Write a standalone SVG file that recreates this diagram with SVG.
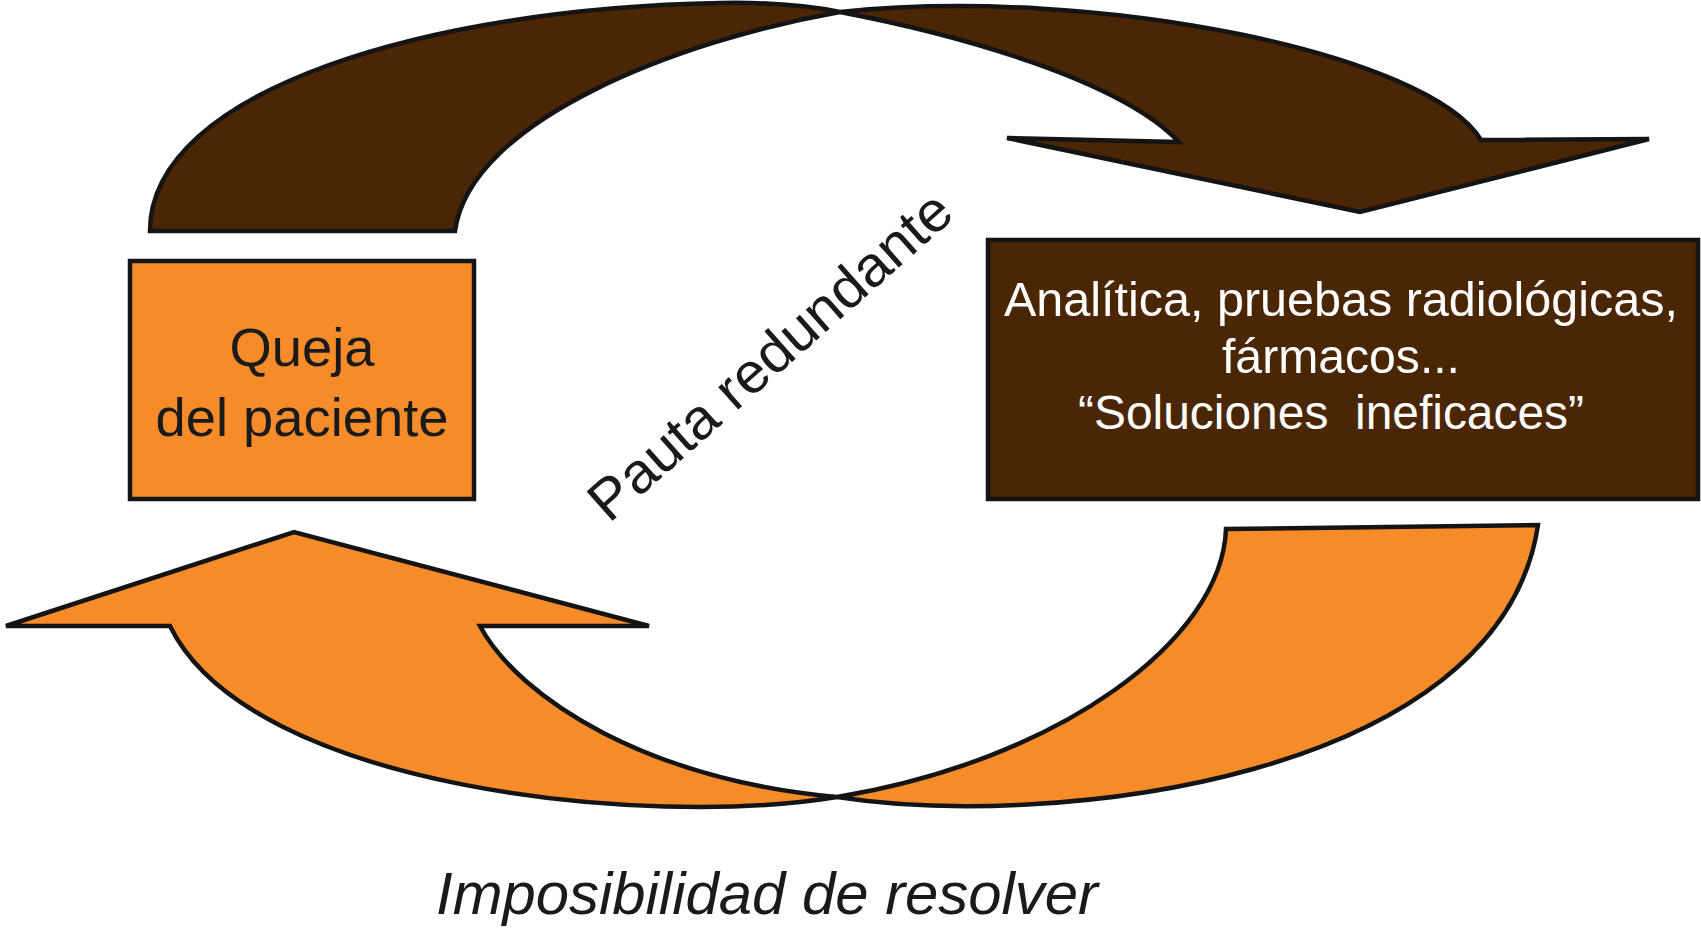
<svg xmlns="http://www.w3.org/2000/svg" width="1701" height="941" viewBox="0 0 1701 941">
  <style>
    .shape { stroke: #141414; stroke-width: 4.5; stroke-linejoin: miter; }
    .orange { fill: #F68B2A; }
    .brown { fill: #4A2604; }
    .txt { font-family: "Liberation Sans", Arial, Helvetica, sans-serif; }
    .dark { fill: #1a1a1a; }
    .light { fill: #ffffff; }
  </style>
  <rect x="0" y="0" width="1701" height="941" fill="#ffffff"/>
  <g id="connectors">
    <path id="arrow-top" class="shape brown" d="M150,231 C150,90 430,8 720,3 C770,2 805,5 840,12 C960,35 1120,80 1179,142 L1007,138 L1360,212 L1649,139 L1481,140 C1430,55 1100,-15 840,12 C680,40 470,120 455,231 Z"/>
    <path id="arrow-bottom" class="shape orange" d="M6,626 L294,532 L649,626 L480,626 C520,700 650,780 837,797 C1050,830 1500,780 1538,525 L1226,529 C1222,640 1060,760 837,797 C650,828 250,790 170,626 Z"/>
  </g>
  <g id="node-queja">
    <rect class="shape orange" x="130" y="261" width="344" height="238"/>
    <text class="txt dark" font-size="54" text-anchor="middle" x="302" y="366" textLength="145" lengthAdjust="spacingAndGlyphs">Queja</text>
    <text class="txt dark" font-size="54" text-anchor="middle" x="302" y="436" textLength="293" lengthAdjust="spacingAndGlyphs">del paciente</text>
  </g>
  <g id="node-soluciones">
    <rect class="shape brown" x="988" y="240" width="710" height="259"/>
    <text class="txt light" font-size="48" text-anchor="middle" x="1341" y="316" textLength="674" lengthAdjust="spacingAndGlyphs">Analítica, pruebas radiológicas,</text>
    <text class="txt light" font-size="48" text-anchor="middle" x="1341" y="373" textLength="238" lengthAdjust="spacingAndGlyphs">fármacos...</text>
    <text class="txt light" font-size="48" text-anchor="middle" x="1331" y="429" textLength="506" lengthAdjust="spacingAndGlyphs" xml:space="preserve">“Soluciones  ineficaces”</text>
  </g>
  <g id="label-pauta">
    <text class="txt dark" font-size="57" transform="translate(609,524) rotate(-41.5)" x="0" y="0" textLength="464" lengthAdjust="spacingAndGlyphs">Pauta redundante</text>
  </g>
  <g id="label-imposibilidad">
    <text class="txt dark" font-size="59" font-style="italic" x="436" y="914" textLength="662" lengthAdjust="spacingAndGlyphs">Imposibilidad de resolver</text>
  </g>
</svg>
